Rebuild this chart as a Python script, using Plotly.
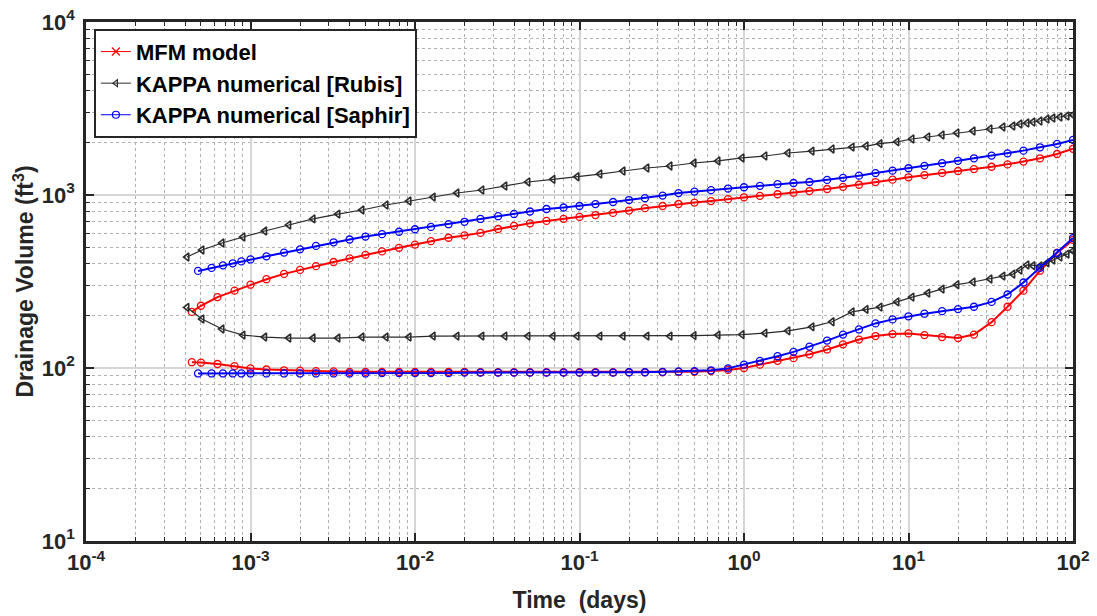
import plotly.graph_objects as go

# ---------------- data ----------------
# KAPPA numerical [Rubis] (black, left triangles)
rubis_t = [4.11e-4, 5.07e-4, 6.71e-4, 9.0e-4, 1.22e-3, 1.71e-3, 2.40e-3, 3.40e-3, 4.76e-3, 6.67e-3,
           9.2e-3, 0.0129, 0.0180, 0.0255, 0.0352, 0.0486, 0.0690, 0.0966, 0.133, 0.184,
           0.257, 0.355, 0.497, 0.695, 0.973, 1.34, 1.85, 2.59, 3.43, 4.54,
           5.52, 6.71, 8.51, 10.5, 13.1, 16.0, 19.7, 24.7, 31.3, 37.5,
           43.1, 47.6, 52.5, 57.1, 63.0, 69.5, 75.5, 83.3, 92.0, 100.0]
rubis_upper = [438, 481, 528, 572, 619, 671, 727, 776, 819, 875,
               923, 973, 1027, 1069, 1127, 1189, 1232, 1275, 1322, 1376,
               1432, 1471, 1531, 1573, 1637, 1680, 1749, 1795, 1845, 1893,
               1919, 1980, 2030, 2108, 2165, 2223, 2283, 2344, 2407, 2472,
               2505, 2572, 2607, 2641, 2677, 2749, 2786, 2823, 2861, 2900]
rubis_lower = [224, 192, 168, 155, 151, 149, 149, 149, 151, 151,
               151, 153, 153, 153, 153, 153, 153, 153, 153, 153,
               153, 153, 154, 155, 156, 159, 164, 173, 185, 211,
               218, 225, 241, 257, 271, 286, 303, 314, 327, 340,
               349, 368, 394, 390, 389, 405, 421, 438, 455, 475]

# MFM model (red)
mfm_t = [4.4e-4, 5e-4, 6.3e-4, 8e-4,
         1e-3, 1.25e-3, 1.6e-3, 2e-3, 2.5e-3, 3.2e-3, 4e-3, 5e-3, 6.3e-3, 8e-3,
         1e-2, 1.25e-2, 1.6e-2, 2e-2, 2.5e-2, 3.2e-2, 4e-2, 5e-2, 6.3e-2, 8e-2,
         0.1, 0.125, 0.16, 0.2, 0.25, 0.32, 0.4, 0.5, 0.63, 0.8,
         1, 1.25, 1.6, 2, 2.5, 3.2, 4, 5, 6.3, 8,
         10, 12.5, 16, 20, 25, 32, 40, 50, 63, 80,
         100]
mfm_upper = [211, 229, 257, 280,
             303, 326, 350, 369, 388, 410, 430, 451, 472, 495,
             517, 541, 566, 584, 604, 636, 663, 686, 708, 728,
             747, 766, 788, 813, 839, 864, 887, 904, 922, 946,
             970, 989, 1010, 1031, 1054, 1083, 1115, 1146, 1187, 1226,
             1266, 1303, 1342, 1376, 1412, 1456, 1503, 1560, 1630, 1726,
             1850]
mfm_lower = [108, 107.5, 105.5, 102.5,
             99.5, 98, 97, 96.5, 96, 95.5, 95, 95, 95, 95,
             95, 95, 95, 95, 94.5, 94.5, 94.5, 94.5, 94.5, 94.5,
             94.5, 94.5, 94.5, 94.5, 94.5, 94.5, 95, 95, 96, 97.5,
             100, 104.5, 110, 114, 120, 128, 137, 146, 153, 157,
             158.5, 155, 151, 149, 156, 184, 226, 280, 365, 462,
             550]

# KAPPA numerical [Saphir] (blue, circles)
saphir_t = [4.8e-4, 5.8e-4, 6.8e-4, 7.8e-4, 8.8e-4,
            1e-3, 1.25e-3, 1.6e-3, 2e-3, 2.5e-3, 3.2e-3, 4e-3, 5e-3, 6.3e-3, 8e-3,
            1e-2, 1.25e-2, 1.6e-2, 2e-2, 2.5e-2, 3.2e-2, 4e-2, 5e-2, 6.3e-2, 8e-2,
            0.1, 0.125, 0.16, 0.2, 0.25, 0.32, 0.4, 0.5, 0.63, 0.8,
            1, 1.25, 1.6, 2, 2.5, 3.2, 4, 5, 6.3, 8,
            10, 12.5, 16, 20, 25, 32, 40, 50, 63, 80,
            100]
saphir_upper = [364, 379, 392, 403, 413,
                424, 442, 464, 485, 508, 533, 553, 575, 594, 613,
                634, 654, 678, 700, 727, 754, 777, 803, 830, 847,
                864, 886, 911, 935, 958, 992, 1026, 1046, 1067, 1090,
                1109, 1130, 1155, 1173, 1189, 1222, 1256, 1294, 1339, 1383,
                1428, 1474, 1527, 1577, 1630, 1690, 1741, 1805, 1887, 1974,
                2082]
saphir_lower = [93, 93, 93, 93, 93,
                93, 93, 93, 93, 93, 93, 93, 93, 93.5, 93.5,
                93.5, 93.5, 93.5, 94, 94, 94, 94, 94, 94, 94,
                94, 94, 94, 94.5, 94.5, 95, 95.5, 96, 97, 99.5,
                104.5, 110, 117, 124, 133, 144, 156, 167, 181, 191,
                199, 206, 213, 219, 226, 241, 266, 312, 379, 462,
                564]

series_names = ["MFM model", "KAPPA numerical [Rubis]", "KAPPA numerical [Saphir]"]
x_tickvals = [1e-4, 1e-3, 1e-2, 1e-1, 1e0, 1e1, 1e2]
x_ticktext = ["10<sup>-4</sup>", "10<sup>-3</sup>", "10<sup>-2</sup>", "10<sup>-1</sup>",
              "10<sup>0</sup>", "10<sup>1</sup>", "10<sup>2</sup>"]
y_tickvals = [1e1, 1e2, 1e3, 1e4]
y_ticktext = ["10<sup>1</sup>", "10<sup>2</sup>", "10<sup>3</sup>", "10<sup>4</sup>"]
x_title = "Time\u00a0 (days)"
y_title = "Drainage Volume (ft<sup>3</sup>)"

# ---------------- styling ----------------
RED = "#ff0000"
BLACK = "#2b2b2b"
BLUE = "#0000ff"
AX = "#262626"
FONT = "Liberation Sans, Arial, sans-serif"

fig = go.Figure()


def add_branch(t, v, color, symbol, msize, lw, mlw):
    fig.add_trace(go.Scatter(
        x=t, y=v, mode="lines+markers", showlegend=False, hoverinfo="x+y",
        line=dict(color=color, width=lw),
        marker=dict(symbol=symbol, size=msize, color=color, line=dict(color=color, width=mlw)),
    ))


add_branch(mfm_t, mfm_upper, RED, "circle-open", 7, 2, 1.3)
add_branch(mfm_t, mfm_lower, RED, "circle-open", 7, 2, 1.3)
add_branch(rubis_t, rubis_upper, BLACK, "triangle-left-open", 7, 1.2, 1.6)
add_branch(rubis_t, rubis_lower, BLACK, "triangle-left-open", 7, 1.2, 1.6)
add_branch(saphir_t, saphir_upper, BLUE, "circle-open", 7, 2, 1.3)
add_branch(saphir_t, saphir_lower, BLUE, "circle-open", 7, 2, 1.3)

# legend entries
legend_styles = [
    (series_names[0], RED, "x-thin", 8),
    (series_names[1], BLACK, "triangle-left-open", 6),
    (series_names[2], BLUE, "circle-open", 7),
]
for name, color, sym, sz in legend_styles:
    fig.add_trace(go.Scatter(
        x=[None], y=[None], mode="lines+markers", name=name,
        line=dict(color=color, width=1),
        marker=dict(symbol=sym, size=sz, color=color, line=dict(color=color, width=1.2)),
    ))

axis_common = dict(
    type="log", tickmode="array", exponentformat="power",
    ticks="inside", ticklen=8, tickwidth=1.5, tickcolor=AX,
    showline=True, linewidth=2.5, linecolor=AX, mirror="allticks",
    showgrid=True, gridcolor="#d6d6d6", gridwidth=1.5, zeroline=False,
    automargin=False,
    tickfont=dict(family=FONT, size=22, color=AX, weight="bold"),
    minor=dict(dtick="D1", ticks="inside", ticklen=4, tickwidth=1.2, tickcolor=AX,
               showgrid=True, gridcolor="#b0b0b0", gridwidth=1, griddash="dot"),
)

fig.update_xaxes(range=[-4, 2], tickvals=x_tickvals, ticktext=x_ticktext,
                 title=dict(text=x_title, font=dict(family=FONT, size=23, color=AX, weight="bold"), standoff=18),
                 **axis_common)
fig.update_yaxes(range=[1, 4], tickvals=y_tickvals, ticktext=y_ticktext, ticklabelstandoff=4,
                 title=dict(text=y_title, font=dict(family=FONT, size=23, color=AX, weight="bold"), standoff=2),
                 **axis_common)

fig.update_layout(
    width=1097, height=616,
    margin=dict(l=86, r=24, t=22, b=75),
    paper_bgcolor="white", plot_bgcolor="white",
    font=dict(family=FONT, color=AX),
    showlegend=True,
    legend=dict(x=0.008, y=0.987, xanchor="left", yanchor="top",
                bgcolor="white", bordercolor=AX, borderwidth=2,
                font=dict(family=FONT, size=22, color="black", weight="bold"),
                itemwidth=30, tracegroupgap=0),
)

fig.write_html("out.html")
